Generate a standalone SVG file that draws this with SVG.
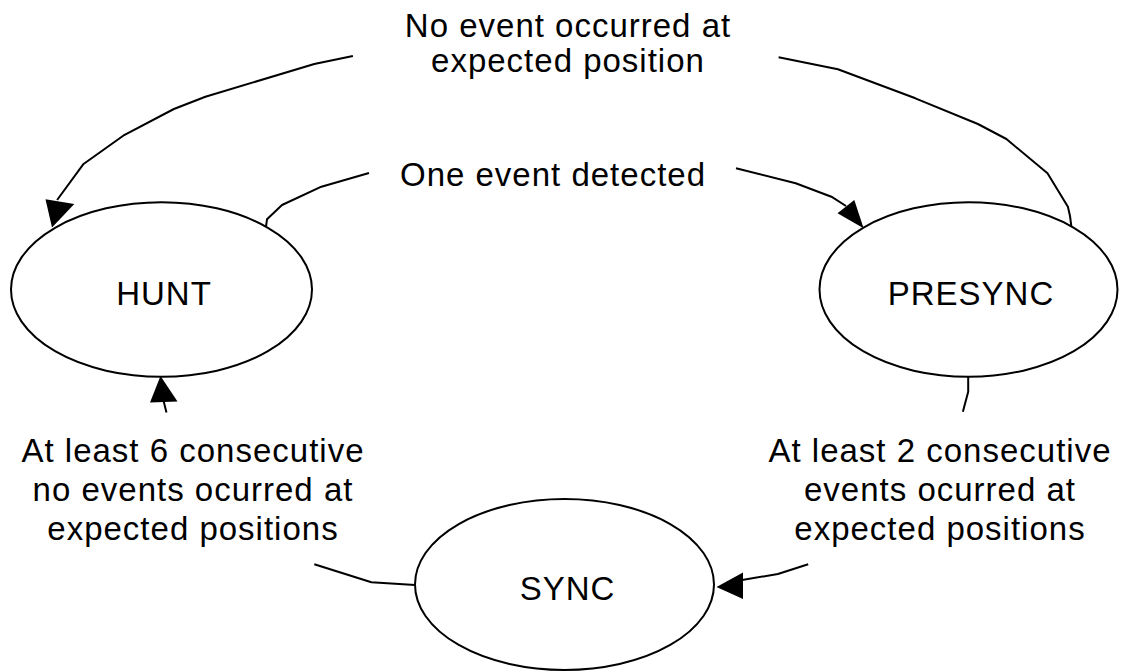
<svg xmlns="http://www.w3.org/2000/svg" width="1125" height="671" viewBox="0 0 1125 671">
  <style>
    .state { fill: #ffffff; stroke: #000000; stroke-width: 2; }
    .name { font-family: "Liberation Sans", Arial, sans-serif; font-size: 33px; fill: #000000; text-anchor: middle; letter-spacing: 1px; }
    .edge { fill: none; stroke: #000000; stroke-width: 2; stroke-linejoin: round; stroke-linecap: butt; }
    .head { fill: #000000; stroke: none; }
    .label { font-family: "Liberation Sans", Arial, sans-serif; font-size: 33px; fill: #000000; text-anchor: middle; letter-spacing: 1px; }
  </style>
  <rect width="1125" height="671" fill="#ffffff"/>

  <!-- transitions -->
  <g id="connectors">
    <!-- PRESYNC -> HUNT : no event at expected position -->
    <g id="edge-presync-hunt">
      <polyline class="edge" points="1071.4,226.7 1070,216 1067.9,206.7 1047.5,173.3 1006.4,139 977.9,124 915.4,98.3 837.9,69.3 778.6,57.3"/>
      <polyline class="edge" points="352.9,56 314.3,64 205.4,96.7 173.9,109 123.2,135.7 83.2,164.3 57.1,200"/>
      <polygon class="head" points="45.5,199.3 74.3,204 52,227.5"/>
      <text class="label" x="568" y="37">No event occurred at</text>
      <text class="label" x="568" y="72">expected position</text>
    </g>
    <!-- HUNT -> PRESYNC : one event detected -->
    <g id="edge-hunt-presync">
      <polyline class="edge" points="266,226.7 267,219.3 282,205 321.4,186.7 369,173"/>
      <polyline class="edge" points="736,168.3 795.7,183.3 831.4,196.7 846,206"/>
      <polygon class="head" points="837.5,213.3 854.3,200 863.6,228.3"/>
      <text class="label" x="553" y="186">One event detected</text>
    </g>
    <!-- PRESYNC -> SYNC : at least 2 consecutive events -->
    <g id="edge-presync-sync">
      <polyline class="edge" points="968.2,373.3 968.2,391.7 962.9,411.7"/>
      <polyline class="edge" points="808.2,564.3 777.9,574 742,580"/>
      <polygon class="head" points="743,572.5 743,599 716.5,587"/>
      <text class="label" x="940" y="462">At least 2 consecutive</text>
      <text class="label" x="940" y="501">events ocurred at</text>
      <text class="label" x="940" y="540">expected positions</text>
    </g>
    <!-- SYNC -> HUNT : at least 6 consecutive missing events -->
    <g id="edge-sync-hunt">
      <polyline class="edge" points="415,585 371.4,582.3 314.3,564.3"/>
      <polyline class="edge" points="166.5,412.5 163.6,401"/>
      <polygon class="head" points="150,402.5 177.5,401.5 160.5,376"/>
      <text class="label" x="193" y="462">At least 6 consecutive</text>
      <text class="label" x="193" y="501">no events ocurred at</text>
      <text class="label" x="193" y="540">expected positions</text>
    </g>
  </g>

  <!-- states -->
  <g id="hunt">
    <ellipse class="state" cx="161.5" cy="289.5" rx="150.5" ry="87.3"/>
    <text class="name" x="164" y="305">HUNT</text>
  </g>
  <g id="presync">
    <ellipse class="state" cx="968.5" cy="289.5" rx="149" ry="87.3"/>
    <text class="name" x="971" y="305">PRESYNC</text>
  </g>
  <g id="sync">
    <ellipse class="state" cx="564.5" cy="584.5" rx="149.5" ry="85.5"/>
    <text class="name" x="567.5" y="600">SYNC</text>
  </g>
</svg>
